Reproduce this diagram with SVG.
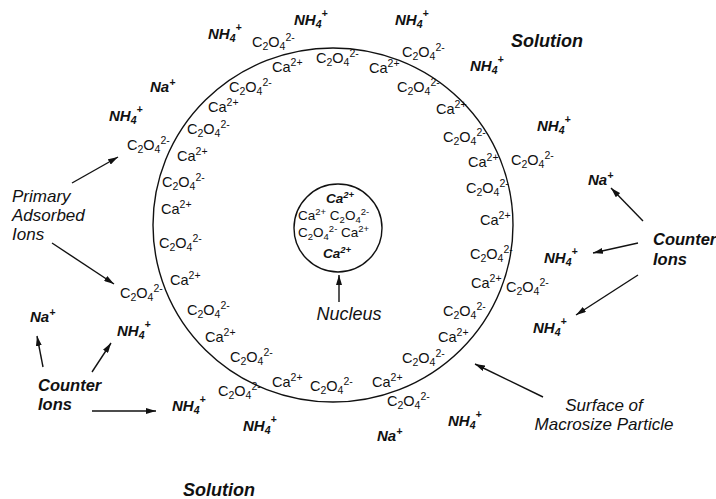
<svg xmlns="http://www.w3.org/2000/svg" width="716" height="499" viewBox="0 0 716 499">
<defs>
<style>
text{font-family:"Liberation Sans",Arial,sans-serif;fill:#111}
.r{font-size:14.5px}
.o{font-size:15px;font-style:italic;font-weight:bold}
.sb{font-size:10.5px}
.sp{font-size:10.5px}
.n{font-size:13.5px}
.n .sb,.n .sp{font-size:9.5px}
.lb{font-size:17px;font-style:italic}
.bl{font-size:16.5px;font-style:italic;font-weight:bold}
.sol{font-size:18px;font-style:italic;font-weight:bold}
.ln{stroke:#111;stroke-width:1.4;fill:none}
</style>
<marker id="ah" viewBox="0 0 10 6" refX="10" refY="3" markerWidth="10" markerHeight="6" markerUnits="userSpaceOnUse" orient="auto">
<path d="M0,0 L10,3 L0,6 z" fill="#111"/>
</marker>
</defs>
<rect width="716" height="499" fill="#fff"/>

<g id="particle">
<ellipse cx="333" cy="225" rx="180" ry="177" class="ln"/>
</g>
<g id="nucleus">
<circle cx="338" cy="228" r="44" class="ln"/>
<text x="326" y="203" class="o" style="font-size:13.5px">Ca<tspan class="sp" style="font-size:9.5px" dy="-5">2+</tspan></text>
<text x="298" y="220" class="n">Ca<tspan class="sp" dy="-5">2+</tspan><tspan dy="5"> C</tspan><tspan class="sb" dy="3">2</tspan><tspan dy="-3">O</tspan><tspan class="sb" dy="3">4</tspan><tspan class="sp" dy="-8">2-</tspan></text>
<text x="298" y="237" class="n">C<tspan class="sb" dy="3">2</tspan><tspan dy="-3">O</tspan><tspan class="sb" dy="3">4</tspan><tspan class="sp" dy="-8">2-</tspan><tspan dy="5"> Ca</tspan><tspan class="sp" dy="-5">2+</tspan></text>
<text x="323" y="258" class="o" style="font-size:13.5px">Ca<tspan class="sp" style="font-size:9.5px" dy="-5">2+</tspan></text>
</g>

<g id="ring-ions">
<text x="252" y="47" class="r">C<tspan class="sb" dy="3">2</tspan><tspan dy="-3">O</tspan><tspan class="sb" dy="3">4</tspan><tspan class="sp" dy="-9">2-</tspan></text>
<text x="272" y="72" class="r">Ca<tspan class="sp" dy="-6">2+</tspan></text>
<text x="316" y="63" class="r">C<tspan class="sb" dy="3">2</tspan><tspan dy="-3">O</tspan><tspan class="sb" dy="3">4</tspan><tspan class="sp" dy="-9">2-</tspan></text>
<text x="369" y="73" class="r">Ca<tspan class="sp" dy="-6">2+</tspan></text>
<text x="402" y="57" class="r">C<tspan class="sb" dy="3">2</tspan><tspan dy="-3">O</tspan><tspan class="sb" dy="3">4</tspan><tspan class="sp" dy="-9">2-</tspan></text>
<text x="397" y="92" class="r">C<tspan class="sb" dy="3">2</tspan><tspan dy="-3">O</tspan><tspan class="sb" dy="3">4</tspan><tspan class="sp" dy="-9">2-</tspan></text>
<text x="436" y="114" class="r">Ca<tspan class="sp" dy="-6">2+</tspan></text>
<text x="443" y="142" class="r">C<tspan class="sb" dy="3">2</tspan><tspan dy="-3">O</tspan><tspan class="sb" dy="3">4</tspan><tspan class="sp" dy="-9">2-</tspan></text>
<text x="468" y="167" class="r">Ca<tspan class="sp" dy="-6">2+</tspan></text>
<text x="511" y="165" class="r">C<tspan class="sb" dy="3">2</tspan><tspan dy="-3">O</tspan><tspan class="sb" dy="3">4</tspan><tspan class="sp" dy="-9">2-</tspan></text>
<text x="466" y="193" class="r">C<tspan class="sb" dy="3">2</tspan><tspan dy="-3">O</tspan><tspan class="sb" dy="3">4</tspan><tspan class="sp" dy="-9">2-</tspan></text>
<text x="480" y="225" class="r">Ca<tspan class="sp" dy="-6">2+</tspan></text>
<text x="470" y="259" class="r">C<tspan class="sb" dy="3">2</tspan><tspan dy="-3">O</tspan><tspan class="sb" dy="3">4</tspan><tspan class="sp" dy="-9">2-</tspan></text>
<text x="471" y="288" class="r">Ca<tspan class="sp" dy="-6">2+</tspan></text>
<text x="506" y="292" class="r">C<tspan class="sb" dy="3">2</tspan><tspan dy="-3">O</tspan><tspan class="sb" dy="3">4</tspan><tspan class="sp" dy="-9">2-</tspan></text>
<text x="443" y="316" class="r">C<tspan class="sb" dy="3">2</tspan><tspan dy="-3">O</tspan><tspan class="sb" dy="3">4</tspan><tspan class="sp" dy="-9">2-</tspan></text>
<text x="438" y="342" class="r">Ca<tspan class="sp" dy="-6">2+</tspan></text>
<text x="402" y="363" class="r">C<tspan class="sb" dy="3">2</tspan><tspan dy="-3">O</tspan><tspan class="sb" dy="3">4</tspan><tspan class="sp" dy="-9">2-</tspan></text>
<text x="372" y="387" class="r">Ca<tspan class="sp" dy="-6">2+</tspan></text>
<text x="387" y="406" class="r">C<tspan class="sb" dy="3">2</tspan><tspan dy="-3">O</tspan><tspan class="sb" dy="3">4</tspan><tspan class="sp" dy="-9">2-</tspan></text>
<text x="310" y="391" class="r">C<tspan class="sb" dy="3">2</tspan><tspan dy="-3">O</tspan><tspan class="sb" dy="3">4</tspan><tspan class="sp" dy="-9">2-</tspan></text>
<text x="272" y="387" class="r">Ca<tspan class="sp" dy="-6">2+</tspan></text>
<text x="218" y="396" class="r">C<tspan class="sb" dy="3">2</tspan><tspan dy="-3">O</tspan><tspan class="sb" dy="3">4</tspan><tspan class="sp" dy="-9">2-</tspan></text>
<text x="230" y="362" class="r">C<tspan class="sb" dy="3">2</tspan><tspan dy="-3">O</tspan><tspan class="sb" dy="3">4</tspan><tspan class="sp" dy="-9">2-</tspan></text>
<text x="205" y="342" class="r">Ca<tspan class="sp" dy="-6">2+</tspan></text>
<text x="187" y="315" class="r">C<tspan class="sb" dy="3">2</tspan><tspan dy="-3">O</tspan><tspan class="sb" dy="3">4</tspan><tspan class="sp" dy="-9">2-</tspan></text>
<text x="120" y="298" class="r">C<tspan class="sb" dy="3">2</tspan><tspan dy="-3">O</tspan><tspan class="sb" dy="3">4</tspan><tspan class="sp" dy="-9">2-</tspan></text>
<text x="170" y="285" class="r">Ca<tspan class="sp" dy="-6">2+</tspan></text>
<text x="159" y="248" class="r">C<tspan class="sb" dy="3">2</tspan><tspan dy="-3">O</tspan><tspan class="sb" dy="3">4</tspan><tspan class="sp" dy="-9">2-</tspan></text>
<text x="161" y="214" class="r">Ca<tspan class="sp" dy="-6">2+</tspan></text>
<text x="162" y="187" class="r">C<tspan class="sb" dy="3">2</tspan><tspan dy="-3">O</tspan><tspan class="sb" dy="3">4</tspan><tspan class="sp" dy="-9">2-</tspan></text>
<text x="177" y="161" class="r">Ca<tspan class="sp" dy="-6">2+</tspan></text>
<text x="187" y="134" class="r">C<tspan class="sb" dy="3">2</tspan><tspan dy="-3">O</tspan><tspan class="sb" dy="3">4</tspan><tspan class="sp" dy="-9">2-</tspan></text>
<text x="127" y="150" class="r">C<tspan class="sb" dy="3">2</tspan><tspan dy="-3">O</tspan><tspan class="sb" dy="3">4</tspan><tspan class="sp" dy="-9">2-</tspan></text>
<text x="208" y="112" class="r">Ca<tspan class="sp" dy="-6">2+</tspan></text>
<text x="229" y="92" class="r">C<tspan class="sb" dy="3">2</tspan><tspan dy="-3">O</tspan><tspan class="sb" dy="3">4</tspan><tspan class="sp" dy="-9">2-</tspan></text>
</g>

<g id="counter-ions">
<text x="208" y="39" class="o">NH<tspan class="sb" dy="3">4</tspan><tspan class="sp" dy="-11">+</tspan></text>
<text x="294" y="25" class="o">NH<tspan class="sb" dy="3">4</tspan><tspan class="sp" dy="-11">+</tspan></text>
<text x="395" y="25" class="o">NH<tspan class="sb" dy="3">4</tspan><tspan class="sp" dy="-11">+</tspan></text>
<text x="470" y="71" class="o">NH<tspan class="sb" dy="3">4</tspan><tspan class="sp" dy="-11">+</tspan></text>
<text x="537" y="131" class="o">NH<tspan class="sb" dy="3">4</tspan><tspan class="sp" dy="-11">+</tspan></text>
<text x="150" y="92" class="o">Na<tspan class="sp" dy="-6">+</tspan></text>
<text x="109" y="121" class="o">NH<tspan class="sb" dy="3">4</tspan><tspan class="sp" dy="-11">+</tspan></text>
<text x="588" y="185" class="o">Na<tspan class="sp" dy="-6">+</tspan></text>
<text x="544" y="263" class="o">NH<tspan class="sb" dy="3">4</tspan><tspan class="sp" dy="-11">+</tspan></text>
<text x="533" y="333" class="o">NH<tspan class="sb" dy="3">4</tspan><tspan class="sp" dy="-11">+</tspan></text>
<text x="30" y="322" class="o">Na<tspan class="sp" dy="-6">+</tspan></text>
<text x="117" y="336" class="o">NH<tspan class="sb" dy="3">4</tspan><tspan class="sp" dy="-11">+</tspan></text>
<text x="172" y="411" class="o">NH<tspan class="sb" dy="3">4</tspan><tspan class="sp" dy="-11">+</tspan></text>
<text x="243" y="431" class="o">NH<tspan class="sb" dy="3">4</tspan><tspan class="sp" dy="-11">+</tspan></text>
<text x="377" y="441" class="o">Na<tspan class="sp" dy="-6">+</tspan></text>
<text x="448" y="426" class="o">NH<tspan class="sb" dy="3">4</tspan><tspan class="sp" dy="-11">+</tspan></text>
</g>

<g id="label-solution-top"><text x="511" y="47" class="sol">Solution</text></g>
<g id="label-solution-bottom"><text x="183" y="496" class="sol">Solution</text></g>
<g id="label-primary"><text x="12" y="202" class="lb">Primary</text><text x="12" y="221" class="lb">Adsorbed</text><text x="12" y="240" class="lb">Ions</text></g>
<g id="label-counter-right"><text x="653" y="245" class="bl">Counter</text><text x="653" y="265" class="bl">Ions</text></g>
<g id="label-counter-left"><text x="38" y="391" class="bl">Counter</text><text x="38" y="410" class="bl">Ions</text></g>
<g id="label-nucleus"><text x="349" y="320" class="lb" text-anchor="middle" style="font-size:18px">Nucleus</text></g>
<g id="label-surface"><text x="604" y="411" class="lb" text-anchor="middle">Surface of</text><text x="604" y="430" class="lb" text-anchor="middle">Macrosize Particle</text></g>

<g id="connectors" class="ln" marker-end="url(#ah)">
<line x1="72" y1="183" x2="118" y2="157"/>
<line x1="52" y1="243" x2="114" y2="284"/>
<line x1="43" y1="367" x2="37" y2="336"/>
<line x1="92" y1="372" x2="111" y2="343"/>
<line x1="92" y1="411" x2="156" y2="411"/>
<line x1="643" y1="221" x2="611" y2="188"/>
<line x1="638" y1="243" x2="593" y2="253"/>
<line x1="638" y1="275" x2="576" y2="315"/>
<line x1="543" y1="397" x2="475" y2="364"/>
<line x1="339" y1="302" x2="339" y2="275"/>
</g>
</svg>
